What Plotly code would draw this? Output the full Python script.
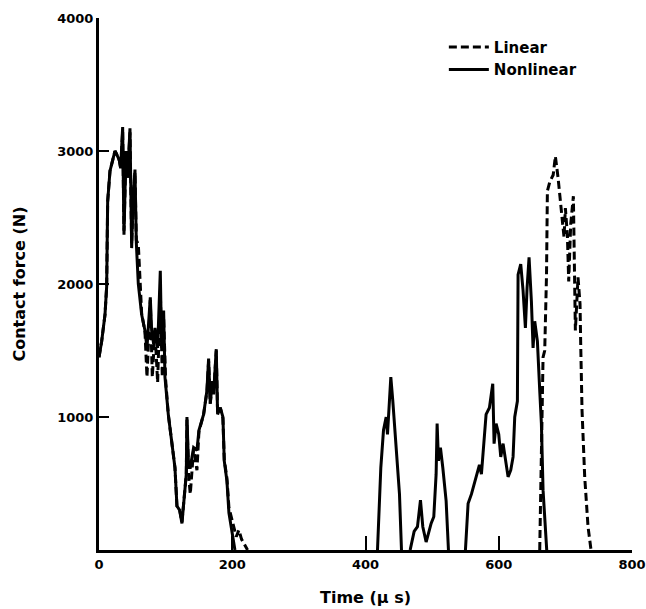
import plotly.graph_objects as go

# ---- data ----
# Nonlinear contact force, separate contact episodes (time in microseconds, force in N)
NL1_T = [0, 4, 9, 11.5, 13, 16.5, 21.5, 24, 27, 30.5, 32.5, 35.5, 37.5, 40.5, 43, 46.5, 49, 51, 54, 56,
         59, 64, 69, 72, 77, 79, 82, 84, 88, 92, 94, 97, 99, 104, 109, 114, 117, 121, 124.5, 127,
         131, 132, 134.5, 137, 142, 147, 150, 157, 162, 164.5, 167, 170, 172, 176, 178, 182, 186, 188, 192, 195,
         200, 204]
NL1_F = [1450, 1570, 1770, 1980, 2620, 2850, 2950, 3000, 2970, 2930, 2870, 3180, 2370, 3000, 2800, 3170, 2270, 2620, 2860, 2310,
         2000, 1770, 1650, 1520, 1900, 1650, 1550, 1670, 1520, 2100, 1520, 1800, 1300, 1020, 820, 620, 330, 300, 200, 330,
         570, 1000, 620, 620, 770, 750, 900, 1020, 1200, 1440, 1100, 1270, 1170, 1510, 1020, 1070, 1000, 670, 520, 280,
         125, 0]

NL2_T = [418, 423, 427, 431, 433, 436, 438, 441, 446, 451, 454]
NL2_F = [0, 620, 900, 1000, 870, 1100, 1300, 1120, 770, 420, 0]

NL3_T = [467, 473, 478, 482.5, 486, 491, 498.5, 502.5, 506, 507.5, 509.5, 512.5, 516, 521, 524.5]
NL3_F = [0, 140, 175, 375, 175, 60, 200, 250, 570, 950, 670, 770, 620, 370, 0]

NL4_T = [550, 554, 559, 566, 571, 574, 578, 581, 586, 591, 593, 596, 600, 603, 606.5, 610, 614, 618, 621.5, 624,
         628, 629, 633, 636.5, 640, 642.5, 645.5, 649, 651.5, 654, 658, 661.5, 664, 666.5, 669, 672]
NL4_F = [0, 350, 420, 550, 640, 570, 800, 1020, 1070, 1250, 800, 950, 870, 700, 800, 670, 550, 600, 700, 1000,
         1120, 2070, 2150, 1950, 1670, 1970, 2200, 1870, 1520, 1720, 1570, 1200, 950, 450, 250, 0]

# Linear contact force
LIN1_T = [0, 4, 9, 11.5, 13, 16.5, 21.5, 24, 27, 30.5, 32.5, 35.5, 37.5, 40.5, 43, 46.5, 49, 51, 54, 56,
          59, 64, 69, 72, 77, 80, 84, 88, 92, 95, 97, 100, 104, 109, 114, 117, 121, 124.5, 127, 131,
          132, 134.5, 137, 142, 147, 150, 157, 162, 164.5, 167, 170, 172, 176, 178, 182, 186, 188, 192, 195, 198,
          202, 206, 210, 214, 218, 223]
LIN1_F = [1450, 1570, 1770, 1980, 2620, 2850, 2950, 3000, 2970, 2930, 2870, 3150, 2400, 2980, 2800, 3140, 2300, 2600, 2840, 2330,
          2300, 1780, 1640, 1300, 1880, 1300, 1650, 1260, 1950, 1300, 1750, 1280, 1020, 820, 620, 330, 300, 210, 330, 570,
          980, 560, 420, 760, 600, 890, 1020, 1190, 1420, 1100, 1260, 1170, 1500, 1030, 1070, 990, 680, 540, 320, 250,
          180, 100, 150, 80, 40, 0]

LIN2_T = [661.5, 664, 666.5, 669, 671.7, 673, 676.7, 681.7, 685, 689, 692.8, 696, 698, 700, 703, 705, 708, 712, 714, 715,
          719, 722, 723, 725, 729, 734, 738.5]
LIN2_F = [0, 820, 1450, 1500, 2070, 2700, 2770, 2820, 2960, 2800, 2620, 2420, 2350, 2570, 2370, 2020, 2450, 2660, 2050, 1650,
          2050, 1850, 1550, 1050, 550, 175, 0]

X_TICKS = [0, 200, 400, 600, 800]
Y_TICKS = [1000, 2000, 3000, 4000]
SERIES_NAMES = ["Linear", "Nonlinear"]


def join(segments):
    xs, ys = [], []
    for t, f in segments:
        if xs:
            xs.append(None)
            ys.append(None)
        xs.extend(t)
        ys.extend(f)
    return xs, ys


lin_x, lin_y = join([(LIN1_T, LIN1_F), (LIN2_T, LIN2_F)])
nl_x, nl_y = join([(NL1_T, NL1_F), (NL2_T, NL2_F), (NL3_T, NL3_F), (NL4_T, NL4_F)])

FONT = "DejaVu Sans"

fig = go.Figure()
fig.add_trace(go.Scatter(x=nl_x, y=nl_y, mode="lines", name=SERIES_NAMES[1], connectgaps=False,
                         line=dict(color="black", width=3)))
fig.add_trace(go.Scatter(x=lin_x, y=lin_y, mode="lines", name=SERIES_NAMES[0], connectgaps=False,
                         line=dict(color="black", width=3, dash="8px,4px")))

fig.update_layout(
    width=646, height=609,
    margin=dict(l=99, r=14, t=18, b=59),
    paper_bgcolor="white", plot_bgcolor="white",
    showlegend=True,
    legend=dict(x=0.647, y=0.976, xanchor="left", yanchor="top", traceorder="reversed",
                bgcolor="rgba(0,0,0,0)", font=dict(family=FONT, size=15, color="black", weight="bold"),
                tracegroupgap=0, itemwidth=40),
    font=dict(family=FONT, color="black"),
)
fig.update_xaxes(
    range=[0, 800], tickvals=X_TICKS, ticktext=[str(v) for v in X_TICKS], automargin=False,
    showgrid=False, zeroline=False, showline=True, linecolor="black", linewidth=3,
    ticks="inside", ticklen=14, tickwidth=2, tickcolor="black",
    tickfont=dict(family=FONT, size=13, color="black", weight="bold"),
    title=dict(text="Time (μ s)", font=dict(family=FONT, size=16, color="black", weight="bold"), standoff=22),
)
fig.update_yaxes(
    range=[0, 4000], tickvals=Y_TICKS, ticktext=[str(v) for v in Y_TICKS], automargin=False,
    showgrid=False, zeroline=False, showline=True, linecolor="black", linewidth=3,
    ticks="inside", ticklen=10, tickwidth=2, tickcolor="black",
    tickfont=dict(family=FONT, size=13, color="black", weight="bold"),
    title=dict(text="Contact force (N)", font=dict(family=FONT, size=16, color="black", weight="bold"), standoff=28),
)

fig.write_html("out.html")
